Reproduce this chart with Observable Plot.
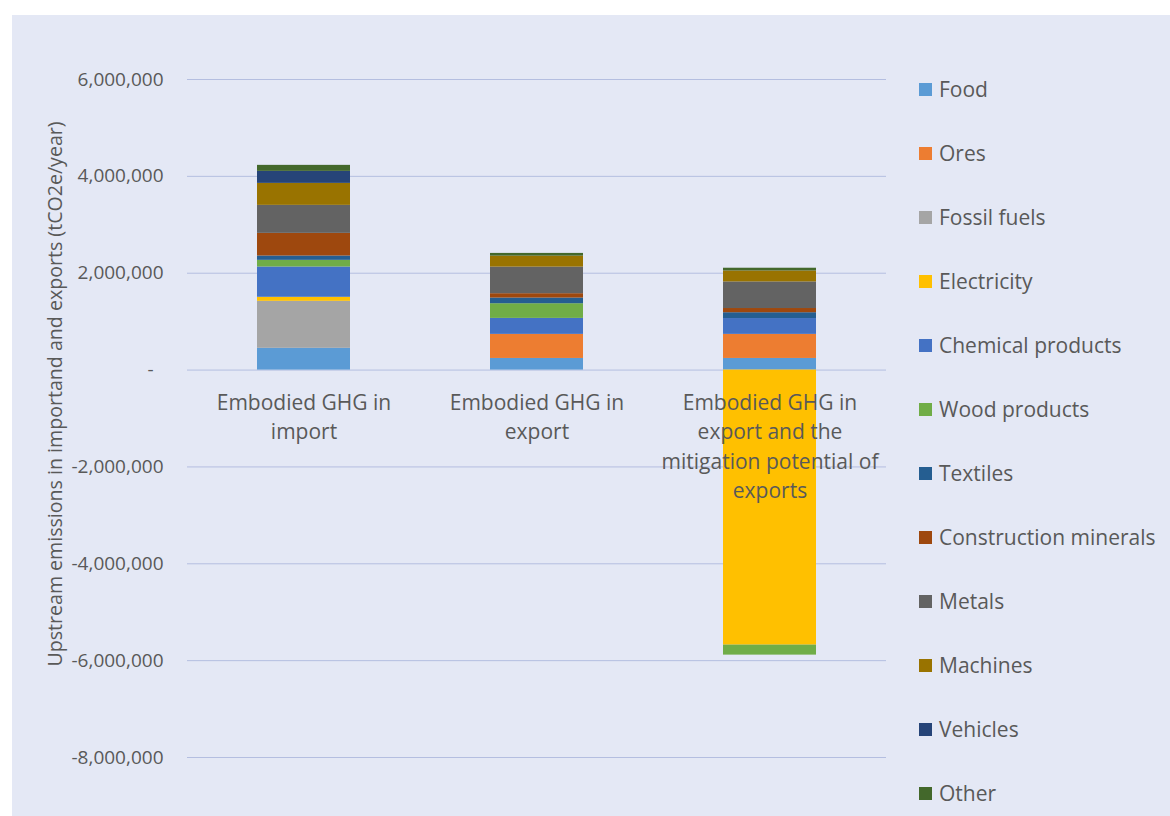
<!DOCTYPE html>
<html>
<head>
<meta charset="utf-8">
<script src="https://cdn.jsdelivr.net/npm/d3@7"></script>
<script src="https://cdn.jsdelivr.net/npm/@observablehq/plot@0.6"></script>
<style>
  html, body { margin: 0; padding: 0; background: #ffffff; }
  #wrap { position: relative; width: 1170px; height: 816px; overflow: hidden; }
  #panel { position: absolute; left: 12px; top: 15px; width: 1158px; height: 801px; background: #e4e8f5; }
  #chart { position: absolute; left: 0; top: 0; }
  #legend { position: absolute; left: 0; top: 0; font-family: "Open Sans", sans-serif; color: #595959; font-size: 21px; }
  .item { position: absolute; display: flex; align-items: center; white-space: nowrap; }
  .sw { width: 13px; height: 13px; margin-right: 7px; }
</style>
</head>
<body>
<div id="wrap"><div id="panel"><div id="chart"></div><div id="legend"></div></div></div>
<script>
// ---- data ----
const categories = [
  "Embodied GHG in import",
  "Embodied GHG in export",
  "Embodied GHG in export and the mitigation potential of exports"
];
const categoryLabels = [
  "Embodied GHG in\nimport",
  "Embodied GHG in\nexport",
  "Embodied GHG in\nexport and the\nmitigation potential of\nexports"
];
const sectors = ["Food", "Ores", "Fossil fuels", "Electricity", "Chemical products", "Wood products",
  "Textiles", "Construction minerals", "Metals", "Machines", "Vehicles", "Other"];
const sectorColors = ["#5b9bd5", "#ed7d31", "#a5a5a5", "#ffc000", "#4472c4", "#70ad47",
  "#255e91", "#9e480e", "#636363", "#997300", "#264478", "#43682b"];
// values in tCO2e/year, one array per category in sector order
const importValues     = [450000, 0, 970000, 83000, 625000, 138000, 89000, 468000, 578000, 454000, 248000, 124000];
const exportValues     = [240000, 497000, 0, 0, 330000, 303000, 117000, 90000, 549000, 227000, 0, 56000];
const mitigationValues = [240000, 497000, 0, -5680000, 327000, -206000, 120000, 87000, 549000, 227000, 0, 56000];
const yTicks = [-8000000, -6000000, -4000000, -2000000, 0, 2000000, 4000000, 6000000];

// ---- build table ----
const seriesByCategory = [importValues, exportValues, mitigationValues];
const data = [];
categories.forEach((c, ci) => {
  sectors.forEach((s, si) => {
    data.push({category: c, sector: s, value: seriesByCategory[ci][si]});
  });
});
const labelData = categories.map((c, i) => ({category: c, label: categoryLabels[i]}));

const fmt = d3.format(",");
const tickFormat = d => d === 0 ? "-\u00A0\u00A0" : fmt(d).replace("\u2212", "-");

const W = 1158, H = 801;
const chart = Plot.plot({
  width: W, height: H,
  marginTop: 64, marginBottom: 59, marginLeft: 175, marginRight: 284,
  style: {background: "transparent", fontFamily: "Open Sans, sans-serif", fontSize: "19px", color: "#595959", overflow: "visible"},
  x: {domain: categories, paddingInner: 0.6, paddingOuter: 0.3, axis: null},
  y: {domain: [-8000000, 6000000], axis: null},
  color: {domain: sectors, range: sectorColors},
  marks: [
    Plot.ruleY(yTicks, {stroke: "#b4bee0", strokeWidth: 1}),
    Plot.barY(data, {x: "category", y: "value", fill: "sector"}),
    Plot.text(labelData, {x: "category", y: 0, text: "label", lineAnchor: "top", dy: 19, lineHeight: 1.4,
      fill: "#595959", fontSize: 21}),
    Plot.axisY({ticks: yTicks, tickSize: 0, tickPadding: 24, tickFormat, label: null, fontSize: 19, fill: "#595959"})
  ]
});
d3.select(chart).append("text")
  .attr("transform", "translate(50,379) rotate(-90)")
  .attr("text-anchor", "middle")
  .attr("fill", "#595959")
  .style("font-family", "Open Sans, sans-serif")
  .style("font-size", "19.6px")
  .text("Upstream emissions in importand and exports (tCO2e/year)");
document.getElementById("chart").appendChild(chart);

// ---- legend ----
const legend = d3.select("#legend");
sectors.forEach((s, i) => {
  const item = legend.append("div").attr("class", "item")
    .style("left", "907px").style("top", (74 + 64 * i - 15) + "px").style("height", "30px");
  item.append("div").attr("class", "sw").style("background", sectorColors[i]);
  item.append("span").text(s);
});
</script>
</body>
</html>
